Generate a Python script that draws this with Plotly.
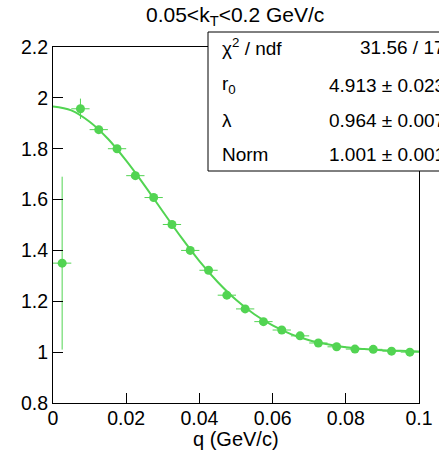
import plotly.graph_objects as go

# data points (q bin centres, correlation values)
q = [0.0025, 0.0075, 0.0125, 0.0175, 0.0225, 0.0275, 0.0325, 0.0375, 0.0425, 0.0475,
     0.0525, 0.0575, 0.0625, 0.0675, 0.0725, 0.0775, 0.0825, 0.0875, 0.0925, 0.0975]
cf = [1.35, 1.957, 1.875, 1.80, 1.694, 1.608, 1.502, 1.40, 1.322, 1.224,
      1.17, 1.12, 1.087, 1.064, 1.036, 1.021, 1.012, 1.011, 1.004, 1.0]
cf_err = [0.34, 0.04, 0.015, 0.012, 0.01, 0.01, 0.01, 0.008, 0.008, 0.007,
          0.006, 0.006, 0.005, 0.005, 0.005, 0.004, 0.004, 0.004, 0.004, 0.004]
q_err = [0.0025] * len(q)

# fit curve
fit_q = [0.0, 0.005, 0.01, 0.015, 0.02, 0.025, 0.03, 0.035, 0.04, 0.045, 0.05,
         0.055, 0.06, 0.065, 0.07, 0.075, 0.08, 0.085, 0.09, 0.095, 0.1]
fit_cf = [1.966, 1.951, 1.906, 1.839, 1.753, 1.656, 1.553, 1.452, 1.358, 1.276, 1.206,
          1.149, 1.105, 1.071, 1.047, 1.031, 1.019, 1.012, 1.007, 1.005, 1.003]

x_ticks = [0, 0.02, 0.04, 0.06, 0.08, 0.1]
y_ticks = [0.8, 1, 1.2, 1.4, 1.6, 1.8, 2, 2.2]

stat_labels = ["χ<sup>2</sup> / ndf", "r<sub>0</sub>", "λ", "Norm"]
stat_values = ["31.56 / 17", "4.913 ± 0.023", "0.964 ± 0.007", "1.001 ± 0.001"]

GREEN = "rgb(82,212,82)"
FONT = "Liberation Sans, Arial, sans-serif"

fig = go.Figure()
fig.add_trace(go.Scatter(
    x=fit_q, y=fit_cf, mode="lines",
    line=dict(color=GREEN, width=2, shape="spline"),
    hoverinfo="skip", showlegend=False))
fig.add_trace(go.Scatter(
    x=q, y=cf, mode="markers",
    marker=dict(color=GREEN, size=9, symbol="circle"),
    error_y=dict(type="data", array=cf_err, color=GREEN, thickness=1, width=0),
    error_x=dict(type="data", array=q_err, color=GREEN, thickness=1, width=0),
    showlegend=False))

axis_common = dict(showline=True, linecolor="black", linewidth=1, mirror=True,
                   ticks="inside", ticklen=10, tickcolor="black", showgrid=False,
                   zeroline=False, automargin=False,
                   tickfont=dict(family=FONT, size=19.5, color="black"))

fig.update_xaxes(range=[0, 0.1], tickvals=x_ticks, ticklabelstandoff=-2,
                 ticktext=[f"{v:g}" for v in x_ticks], **axis_common)
fig.update_yaxes(range=[0.8, 2.2], tickvals=y_ticks,
                 ticktext=[f"{v:g}" for v in y_ticks], **axis_common)

# pixel -> paper helpers (plot area 53..419 x 47..403)
def px_x(p):
    return (p - 53) / 366.0

def px_y(p):
    return (403 - p) / 356.0

# stats box
fig.add_shape(type="rect", xref="paper", yref="paper",
              x0=px_x(208), x1=px_x(470), y0=px_y(171), y1=px_y(32),
              line=dict(color="black", width=1), fillcolor="white", layer="above")
row_y = [47, 85, 121, 154]
for lab, val, yy in zip(stat_labels, stat_values, row_y):
    fig.add_annotation(xref="paper", yref="paper", x=px_x(220), y=px_y(yy),
                       text=lab, showarrow=False, xanchor="left", yanchor="middle",
                       font=dict(family=FONT, size=19, color="black"))
    fig.add_annotation(xref="paper", yref="paper", x=px_x(447), y=px_y(yy),
                       text=val, showarrow=False, xanchor="right", yanchor="middle",
                       font=dict(family=FONT, size=19, color="black"))

# title
fig.add_annotation(xref="paper", yref="paper", x=px_x(235), y=px_y(16),
                   text="0.05<k<sub>T</sub><0.2 GeV/c", showarrow=False,
                   xanchor="center", yanchor="middle",
                   font=dict(family=FONT, size=21, color="black"))

# x axis title
fig.add_annotation(xref="paper", yref="paper", x=px_x(236), y=px_y(439),
                   text="q (GeV/c)", showarrow=False,
                   xanchor="center", yanchor="middle",
                   font=dict(family=FONT, size=20, color="black"))

fig.update_layout(width=439, height=450,
                  margin=dict(l=53, r=20, t=47, b=47),
                  plot_bgcolor="white", paper_bgcolor="white")

fig.write_html("out.html", config={"displayModeBar": False},
               post_script="document.body.style.margin='0';document.body.style.padding='0';")
